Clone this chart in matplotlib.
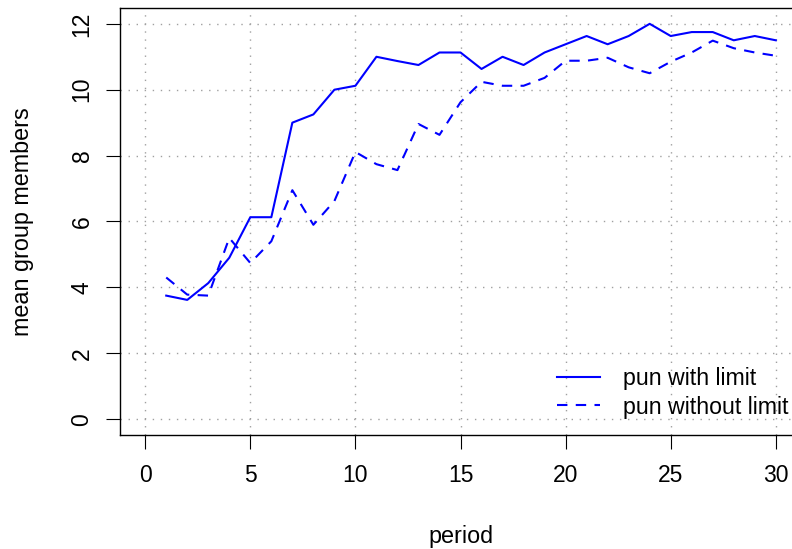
import matplotlib.pyplot as plt
import numpy as np

plt.rcParams['font.family'] = ['Liberation Sans', 'DejaVu Sans']

period = np.arange(1, 31)
pun_with_limit = [3.75, 3.62, 4.13, 4.9, 6.13, 6.13, 9.0, 9.25, 10.0, 10.12,
                  11.0, 10.87, 10.75, 11.13, 11.13, 10.63, 11.0, 10.75, 11.13, 11.38,
                  11.63, 11.38, 11.63, 12.0, 11.63, 11.75, 11.75, 11.5, 11.63, 11.5]
pun_without_limit = [4.3, 3.78, 3.75, 5.5, 4.74, 5.4, 6.95, 5.9, 6.62, 8.11,
                     7.74, 7.56, 8.96, 8.63, 9.62, 10.24, 10.12, 10.12, 10.36, 10.88,
                     10.88, 10.97, 10.68, 10.5, 10.85, 11.13, 11.49, 11.26, 11.13, 11.03]

fig = plt.figure(figsize=(7.92, 5.49), dpi=100)
ax = fig.add_axes([0.1515, 0.2077, 0.8599, 0.7777])

ax.plot(period, pun_with_limit, color='blue', lw=1.5, label='pun with limit')
ax.plot(period, pun_without_limit, color='blue', lw=1.5, dashes=(5, 4),
        label='pun without limit')

ax.set_xlim(-1.2, 31.2)
ax.set_ylim(-0.48, 12.48)
ax.set_xticks(np.arange(0, 31, 5))
ax.set_yticks(np.arange(0, 13, 2))
ax.grid(True, color='#a0a0a0', linestyle=(0, (1, 4.8)), lw=1)
ax.tick_params(labelsize=16.5, length=10, width=0.8)
ax.tick_params(axis='x', pad=11)
ax.tick_params(axis='y', pad=9)
for lab in ax.get_yticklabels():
    lab.set_rotation(90)
    lab.set_va('center')
for s in ax.spines.values():
    s.set_linewidth(1)

ax.set_xlabel('period', fontsize=16.8)
ax.xaxis.set_label_coords(0.5, -0.2389)
ax.xaxis.label.set_va('center')
ax.set_ylabel('mean group members', fontsize=16.8)
ax.yaxis.set_label_coords(-0.1425, 0.5)
ax.yaxis.label.set_va('center')

ax.legend(loc='center left', bbox_to_anchor=(0.6417, 0.0984), frameon=False,
          fontsize=16.7, handlelength=1.87, handletextpad=0.97, labelspacing=0.22,
          borderpad=0, borderaxespad=0)

fig.savefig('out.png', dpi=100)
